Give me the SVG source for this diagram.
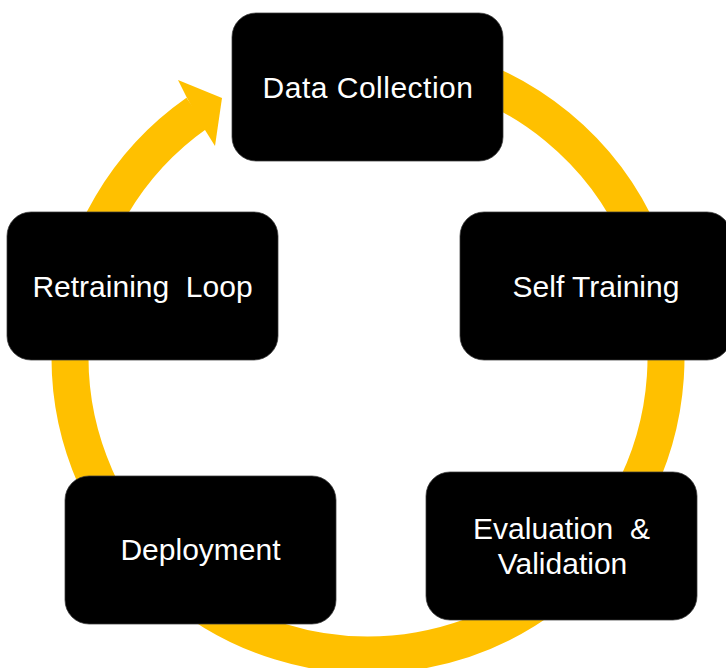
<svg xmlns="http://www.w3.org/2000/svg" width="726" height="668" viewBox="0 0 726 668">
  <style>
    .node rect { fill: #000000; stroke: #3a3a3a; stroke-width: 0.75; }
    .node text { fill: #ffffff; font-family: "Liberation Sans", Arial, sans-serif; font-size: 30px; text-anchor: middle; white-space: pre; }
    .ring { fill: none; stroke: #FFC000; stroke-width: 37; stroke-linecap: butt; }
    .head { fill: #FFC000; }
  </style>
  <rect x="0" y="0" width="726" height="668" fill="#ffffff"/>
  <g id="connectors">
    <path class="ring" d="M 445.13 69.15 A 298 298 0 1 1 197.07 112.91"/>
    <polygon class="head" points="187,98 178,80 222,98 215,146 205,130"/>
  </g>
  <g id="node-data-collection" class="node">
    <rect x="232" y="13" width="271" height="148" rx="24" ry="24"/>
    <text x="368" y="97.5" letter-spacing="0.5">Data Collection</text>
  </g>
  <g id="node-self-training" class="node">
    <rect x="460" y="212" width="271" height="148" rx="24" ry="24"/>
    <text x="596" y="297">Self Training</text>
  </g>
  <g id="node-evaluation" class="node">
    <rect x="426" y="472" width="271" height="148" rx="24" ry="24"/>
    <text x="561.5" y="539" xml:space="preserve">Evaluation  &amp;</text>
    <text x="562.5" y="574">Validation</text>
  </g>
  <g id="node-deployment" class="node">
    <rect x="65" y="476" width="271" height="148" rx="24" ry="24"/>
    <text x="200.5" y="560">Deployment</text>
  </g>
  <g id="node-retraining" class="node">
    <rect x="7" y="212" width="271" height="148" rx="24" ry="24"/>
    <text x="142.5" y="297" xml:space="preserve">Retraining  Loop</text>
  </g>
</svg>
